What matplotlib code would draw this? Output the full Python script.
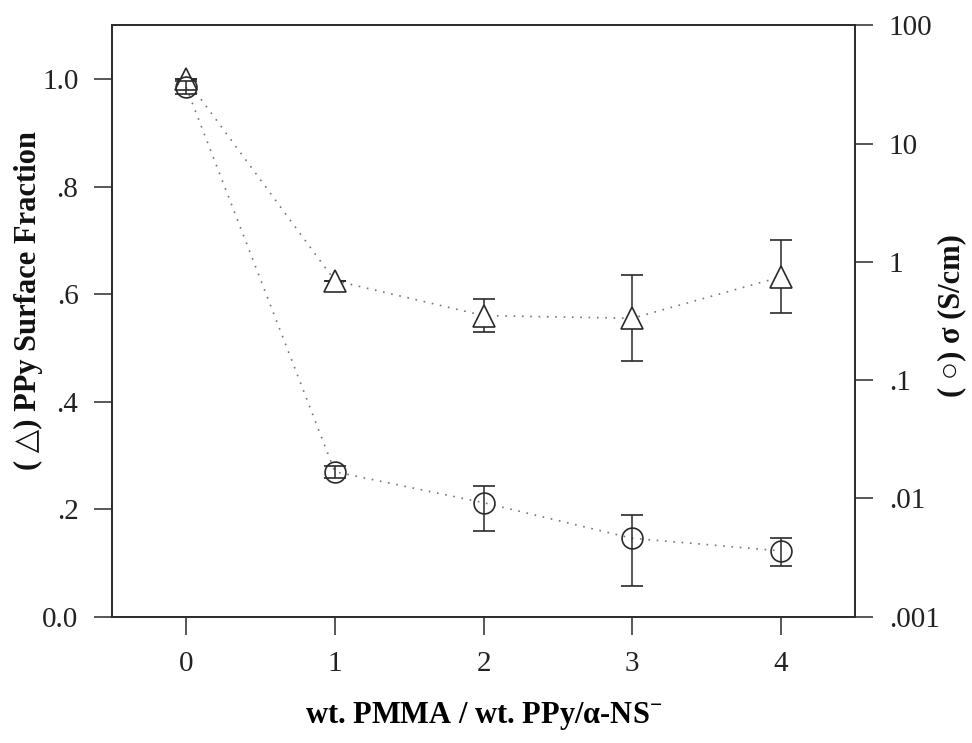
import matplotlib
matplotlib.use("Agg")
import matplotlib.pyplot as plt
import numpy as np

plt.rcParams['font.family'] = ['Liberation Serif', 'DejaVu Sans']
plt.rcParams['mathtext.fontset'] = 'custom'
plt.rcParams['mathtext.rm'] = 'Liberation Serif'
plt.rcParams['mathtext.bf'] = 'Liberation Serif:bold'

# ratio wt. PMMA / wt. PPy
ratio = [0, 1, 2, 3, 4]

# PPy surface fraction (triangles, left axis)
frac = [1.0, 0.625, 0.56, 0.555, 0.632]
frac_lo = [0.0, 0.0, 0.03, 0.08, 0.067]
frac_hi = [0.0, 0.0, 0.03, 0.08, 0.068]

# conductivity in S/cm (circles, right axis, log)
sigma = [30.0, 0.0168, 0.0092, 0.0046, 0.0036]
sigma_lo = [4.0, 0.0018, 0.0039, 0.0028, 0.0009]
sigma_hi = [4.0, 0.0020, 0.0036, 0.0027, 0.0010]

left_ticks = [0.0, 0.2, 0.4, 0.6, 0.8, 1.0]
left_labels = ['0.0', '.2', '.4', '.6', '.8', '1.0']
right_ticks = [1e-3, 1e-2, 1e-1, 1, 10, 100]
right_labels = ['.001', '.01', '.1', '1', '10', '100']

ink = '#2a2a2a'

fig = plt.figure(figsize=(9.72, 7.43), dpi=100)
ax = fig.add_axes([0.115, 0.170, 0.765, 0.796])
ax2 = ax.twinx()

ax.plot(ratio, frac, linestyle=(0, (1, 4)), color='#777777', lw=1.2, zorder=1)
ax.errorbar(ratio, frac, yerr=[frac_lo, frac_hi], fmt='^', ms=16, mfc='white',
            mec=ink, mew=1.2, ecolor=ink, elinewidth=1.1, capsize=8, capthick=1.1,
            zorder=3)

ax2.plot(ratio, sigma, linestyle=(0, (1, 4)), color='#777777', lw=1.2, zorder=1)
ax2.errorbar(ratio, sigma, yerr=[sigma_lo, sigma_hi], fmt='o', ms=15, mfc='none',
             mec=ink, mew=1.2, ecolor=ink, elinewidth=1.1, capsize=8, capthick=1.1,
             zorder=3)

ax.set_xlim(-0.5, 4.5)
ax.set_ylim(0, 1.1)
ax2.set_yscale('log')
ax2.set_ylim(1e-3, 1e2)

ax.set_xticks(ratio)
ax.set_xticklabels([str(r) for r in ratio])
ax.set_yticks(left_ticks)
ax.set_yticklabels(left_labels)
ax2.set_yticks(right_ticks)
ax2.set_yticklabels(right_labels)
ax2.yaxis.set_minor_locator(matplotlib.ticker.NullLocator())

for a in (ax, ax2):
    a.tick_params(direction='out', length=13, width=1.1, color=ink,
                  labelsize=21, labelcolor='#222222', pad=11)
    for s in a.spines.values():
        s.set_color(ink)
        s.set_linewidth(1.2)

ax.tick_params(axis='x', pad=12)

ax.set_xlabel(r'wt. PMMA / wt. PPy/$\mathbf{\alpha}$-NS$^{\mathbf{-}}$',
              fontsize=22, fontweight='bold', labelpad=16)

# axis titles placed by hand so the right one is not clipped
fig.text(28 / 972, 1 - 300 / 743, '( \u25b3) PPy Surface Fraction', fontsize=22,
         fontweight='bold', rotation=90, ha='center', va='center', color='#111111')
fig.text(952 / 972, 1 - 316 / 743, '( \u25cb) \u03c3 (S/cm)', fontsize=22,
         fontweight='bold', rotation=90, ha='center', va='center', color='#111111')

fig.savefig('out.png', dpi=100, facecolor='white')
